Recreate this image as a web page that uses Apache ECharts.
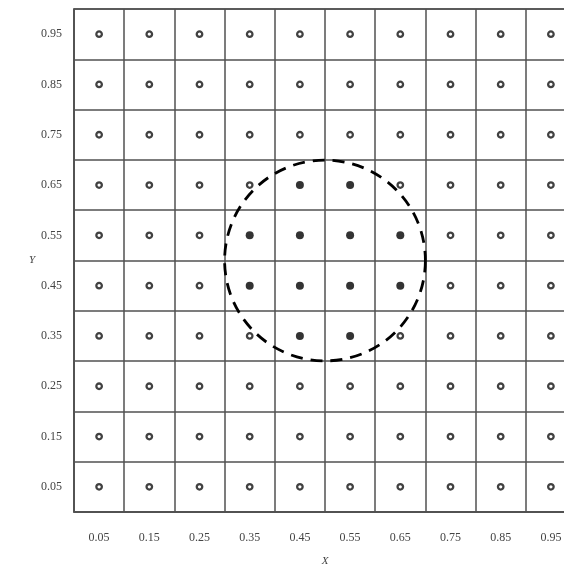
<!DOCTYPE html>
<html>
<head>
<meta charset="utf-8">
<script src="https://cdn.jsdelivr.net/npm/echarts@6/dist/echarts.min.js"></script>
<style>
  html, body { margin: 0; padding: 0; background: #fff; }
  #chart { width: 564px; height: 568px; }
</style>
</head>
<body>
<div id="chart"></div>
<script>
// Cell centres along each axis
const xLabels = ['0.05', '0.15', '0.25', '0.35', '0.45', '0.55', '0.65', '0.75', '0.85', '0.95'];
const yLabels = ['0.05', '0.15', '0.25', '0.35', '0.45', '0.55', '0.65', '0.75', '0.85', '0.95'];
const xValues = [0.05, 0.15, 0.25, 0.35, 0.45, 0.55, 0.65, 0.75, 0.85, 0.95];
const yValues = [0.05, 0.15, 0.25, 0.35, 0.45, 0.55, 0.65, 0.75, 0.85, 0.95];

// 1 = point inside the region (filled), 0 = outside (open); rows listed from Y = 0.95 down to Y = 0.05
const insideRows = [
  [0, 0, 0, 0, 0, 0, 0, 0, 0, 0],
  [0, 0, 0, 0, 0, 0, 0, 0, 0, 0],
  [0, 0, 0, 0, 0, 0, 0, 0, 0, 0],
  [0, 0, 0, 0, 1, 1, 0, 0, 0, 0],
  [0, 0, 0, 1, 1, 1, 1, 0, 0, 0],
  [0, 0, 0, 1, 1, 1, 1, 0, 0, 0],
  [0, 0, 0, 0, 1, 1, 0, 0, 0, 0],
  [0, 0, 0, 0, 0, 0, 0, 0, 0, 0],
  [0, 0, 0, 0, 0, 0, 0, 0, 0, 0],
  [0, 0, 0, 0, 0, 0, 0, 0, 0, 0]
];

// Region boundary: centre x, centre y, radius
const regionCircle = [[0.5, 0.5, 0.2]];

const filledPoints = [];
const openPoints = [];
insideRows.forEach((row, r) => {
  const y = yValues[yValues.length - 1 - r];
  row.forEach((flag, c) => {
    (flag ? filledPoints : openPoints).push([xValues[c], y]);
  });
});

const lineColor = '#505050';
const labelFont = { fontFamily: 'Liberation Serif', fontSize: 12, color: '#444' };

const chart = echarts.init(document.getElementById('chart'));
chart.setOption({
  animation: false,
  grid: {
    left: 74, top: 9, width: 502, height: 503,
    outerBoundsMode: 'none', containLabel: false,
    show: true, borderColor: lineColor, borderWidth: 1.5, backgroundColor: 'transparent'
  },
  xAxis: [
    {
      type: 'value', min: 0, max: 1, interval: 0.1,
      axisLine: { show: true, lineStyle: { color: lineColor, width: 1.5 } },
      axisTick: { show: false },
      axisLabel: { show: false },
      splitLine: { show: true, lineStyle: { color: lineColor, width: 1.5 } }
    },
    {
      type: 'category', data: xLabels, position: 'bottom', boundaryGap: true,
      axisLine: { show: false }, axisTick: { show: false }, splitLine: { show: false },
      axisLabel: Object.assign({ margin: 20 }, labelFont),
      name: 'X', nameLocation: 'middle', nameGap: 44,
      nameTextStyle: { fontFamily: 'Liberation Serif', fontStyle: 'italic', fontSize: 11, color: '#444' }
    }
  ],
  yAxis: [
    {
      type: 'value', min: 0, max: 1, interval: 0.1,
      axisLine: { show: true, lineStyle: { color: lineColor, width: 1.5 } },
      axisTick: { show: false },
      axisLabel: { show: false },
      splitLine: { show: true, lineStyle: { color: lineColor, width: 1.5 } }
    },
    {
      type: 'category', data: yLabels, position: 'left', boundaryGap: true,
      axisLine: { show: false }, axisTick: { show: false }, splitLine: { show: false },
      axisLabel: Object.assign({ margin: 12 }, labelFont),
      name: 'Y', nameLocation: 'middle', nameGap: 38, nameRotate: 0,
      nameTextStyle: { fontFamily: 'Liberation Serif', fontStyle: 'italic', fontSize: 11, color: '#444' }
    }
  ],
  series: [
    {
      type: 'scatter', xAxisIndex: 0, yAxisIndex: 0,
      data: openPoints, symbol: 'circle', symbolSize: 5.5,
      itemStyle: { color: '#fff', borderColor: '#111', borderWidth: 2.3 },
      z: 3
    },
    {
      type: 'scatter', xAxisIndex: 0, yAxisIndex: 0,
      data: filledPoints, symbol: 'circle', symbolSize: 8,
      itemStyle: { color: '#000' },
      z: 3
    },
    {
      type: 'custom', xAxisIndex: 0, yAxisIndex: 0,
      data: regionCircle,
      renderItem: function (params, api) {
        const c = api.coord([api.value(0), api.value(1)]);
        const r = api.size([api.value(2), 0])[0];
        return {
          type: 'circle',
          shape: { cx: c[0], cy: c[1], r: r },
          style: { fill: 'none', stroke: '#000', lineWidth: 2.8, lineDash: [12, 8] },
          z2: 10
        };
      },
      z: 4
    }
  ]
});
</script>
</body>
</html>
